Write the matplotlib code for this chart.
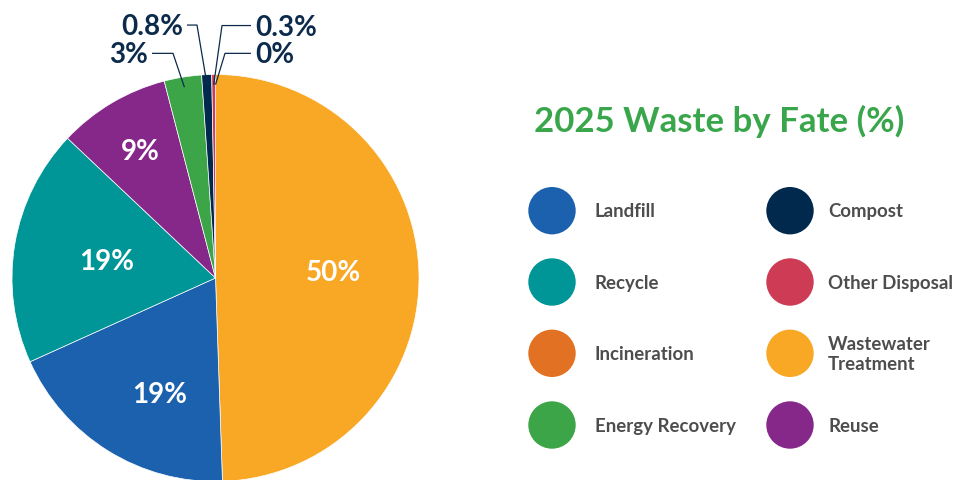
import numpy as np
import matplotlib
matplotlib.use("Agg")
import matplotlib.pyplot as plt
from matplotlib.patches import Circle

# ---- data -------------------------------------------------------------
categories = ["Landfill", "Recycle", "Incineration", "Energy Recovery",
              "Compost", "Other Disposal", "Wastewater\nTreatment", "Reuse"]
shares = [19, 19, 0, 3, 0.8, 0.3, 50, 9]
colors = ["#1b61ad", "#009597", "#e27123", "#3ba547",
          "#00294d", "#cd3b55", "#f9a826", "#862889"]
# clockwise order of the slices, starting at twelve o'clock
pie_order = ["Wastewater\nTreatment", "Landfill", "Recycle", "Reuse",
             "Energy Recovery", "Compost", "Other Disposal", "Incineration"]
title = "2025 Waste by Fate (%)"

# ---- canvas in pixel units (y measured downward from the top) ---------
W, H = 959, 480
plt.rcParams["font.family"] = ["Lato", "DejaVu Sans"]
fig = plt.figure(figsize=(W / 100, H / 100), dpi=100)
ax = fig.add_axes([0, 0, 1, 1])


def Y(y):
    return H - y


def fmt(v):
    if v == 0:
        return "0%"
    if v < 1:
        return f"{v:.1f}%"
    return f"{v:.0f}%"


lookup = {c: (v, col) for c, v, col in zip(categories, shares, colors)}
pie_vals = [lookup[c][0] for c in pie_order]
pie_cols = [lookup[c][1] for c in pie_order]

cx, cy, R = 215.5, Y(278), 203.5
wedges, _ = ax.pie(pie_vals, colors=pie_cols, startangle=90, counterclock=False,
                   center=(cx, cy), radius=R,
                   wedgeprops=dict(edgecolor="white", linewidth=0.5))
for w, v in zip(wedges, pie_vals):
    if v == 0:
        w.set_linewidth(0)

navy = "#0c2b4c"
label_size = 20
digit_h = 0.7165 * label_size * 100 / 72

# labels inside the larger slices: (radius factor, angle nudge in degrees)
inner_pos = {"Wastewater\nTreatment": (0.58, 2.5), "Landfill": (0.63, 6),
             "Recycle": (0.54, 0), "Reuse": (0.73, 0)}
# labels outside the thin slices: (text edge x, baseline y, alignment, elbow x)
outer_pos = {"Energy Recovery": (148, 63.3, "right", 173),
             "Compost": (183, 35, "right", 197),
             "Other Disposal": (255, 35.5, "left", 222),
             "Incineration": (255, 63.3, "left", 225)}

for name, w, v in zip(pie_order, wedges, pie_vals):
    mid = np.deg2rad((w.theta1 + w.theta2) / 2)
    if name in inner_pos:
        f, nudge = inner_pos[name]
        a = mid + np.deg2rad(nudge)
        x = cx + f * R * np.cos(a)
        y = cy + f * R * np.sin(a)
        ax.text(x, y - digit_h / 2, fmt(v), color="white", fontsize=label_size,
                fontweight="bold", ha="center", va="baseline")
    else:
        tx, base, ha, ex = outer_pos[name]
        ly = Y(base) + digit_h / 2
        px = cx + 0.95 * R * np.cos(mid)
        py = cy + 0.95 * R * np.sin(mid)
        gap = -4 if ha == "left" else 4
        ax.plot([px, ex, tx + gap], [py, ly, ly], color=navy, lw=0.9,
                solid_capstyle="butt", zorder=3)
        ax.text(tx, Y(base), fmt(v), color=navy, fontsize=label_size,
                fontweight="bold", ha=ha, va="baseline")

# ---- title ------------------------------------------------------------
ax.text(719, Y(132), title, color="#3aa64c", fontsize=25,
        fontweight="bold", ha="center", va="baseline")

# ---- legend (two columns, four rows) ----------------------------------
col_circle_x = [552, 790]
col_text_x = [595, 828]
row_y = [210.7, 282, 353.3, 425]
legend_size = 13.4
cap_h = 0.7165 * legend_size * 100 / 72
line_gap = 20.7
for i, (name, col) in enumerate(zip(categories, colors)):
    c, r = divmod(i, 4)
    yc = row_y[r]
    ax.add_patch(Circle((col_circle_x[c], Y(yc)), 23.7, color=col, lw=0))
    lines = name.split("\n")
    first = yc + cap_h / 2 - (len(lines) - 1) * line_gap / 2
    for k, ln in enumerate(lines):
        ax.text(col_text_x[c], Y(first + k * line_gap), ln, color="#4d4d4d",
                fontsize=legend_size, fontweight="bold", ha="left",
                va="baseline")

ax.set_aspect("equal")
ax.set_xlim(0, W)
ax.set_ylim(0, H)
ax.axis("off")
fig.savefig("out.png", dpi=100, facecolor="white")
